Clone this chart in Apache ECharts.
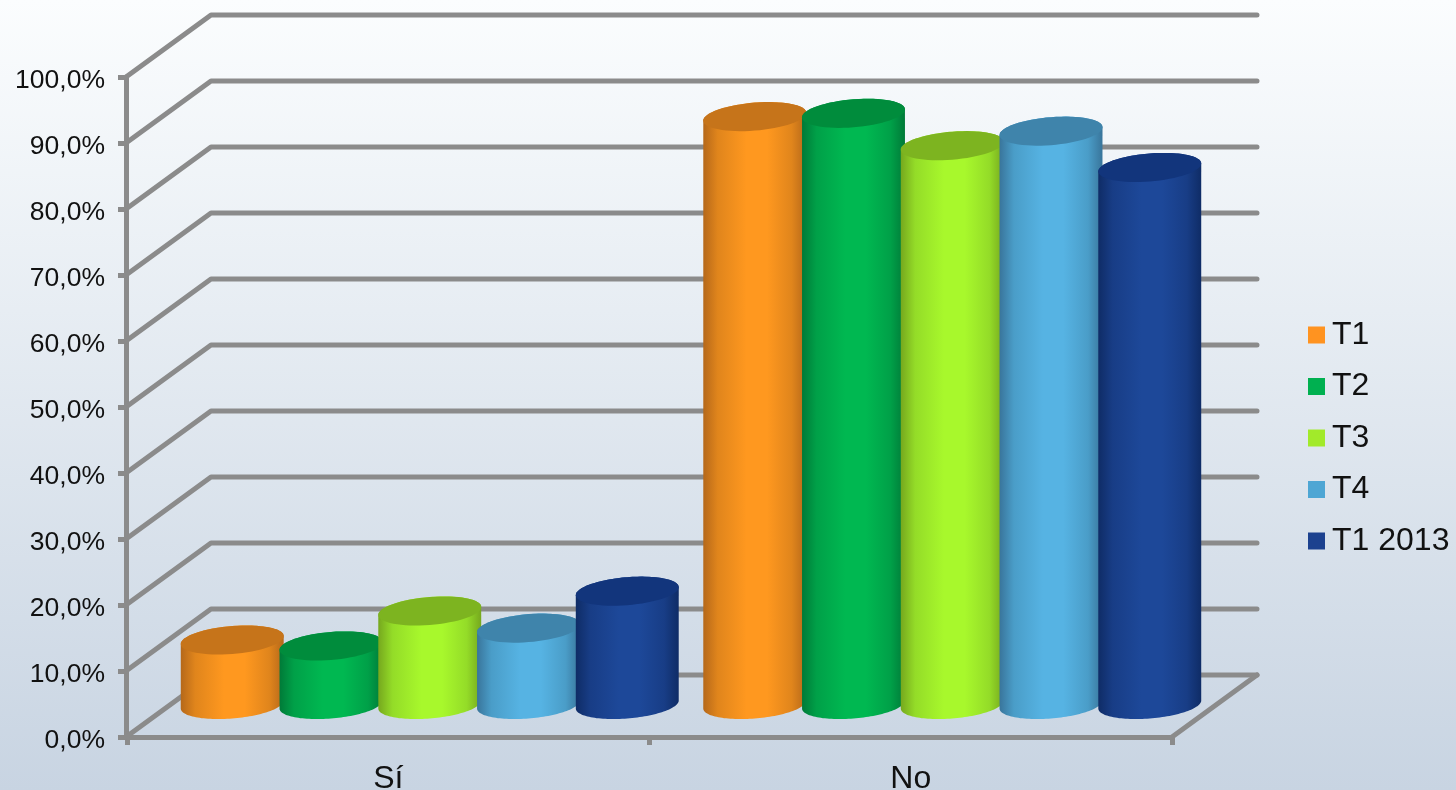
<!DOCTYPE html>
<html>
<head>
<meta charset="utf-8">
<style>html,body{margin:0;padding:0;background:#fff}#c{width:1456px;height:790px}</style>
<script src="https://cdn.jsdelivr.net/npm/echarts@6/dist/echarts.min.js"></script>
</head>
<body>
<div id="c"></div>
<script>
const categories = ['Sí', 'No'];
const tickValues = [0, 10, 20, 30, 40, 50, 60, 70, 80, 90, 100];
const T1 = [10.0, 89.3];
const T2 = [9.1, 89.8];
const T3 = [14.4, 84.9];
const T4 = [11.8, 87.1];
const T1_2013 = [17.4, 81.6];
const seriesNames = ['T1', 'T2', 'T3', 'T4', 'T1 2013'];
const seriesValues = [T1, T2, T3, T4, T1_2013];
const bodyMid = ['#ff981f', '#00b851', '#a8f82c', '#56b3e3', '#1d4899'];
const topColors = ['#c6741a', '#008c3c', '#7db420', '#3f84ab', '#12357c'];
const edgeColors = ['#b5681a', '#007a38', '#76a81e', '#39759b', '#0f2c66'];
const shoulderColors = ['#e0851c', '#00a048', '#94dc28', '#4a9dc8', '#183d86'];
const legendColors = ['#ff9320', '#00b050', '#a2ea2a', '#4ea6d4', '#1c418f'];

const LINE = '#8b8b8b';
const DX = 85, DY = -62;

function wallItem(params, api) {
  const cs = params.coordSys;
  const y = api.coord([0, api.value(0)])[1];
  const x0 = cs.x - 1, x1 = cs.x + cs.width;
  const children = [{
    type: 'polyline',
    shape: { points: [[x0, y], [x0 + DX, y + DY], [x1 + DX, y + DY]] },
    style: { stroke: LINE, lineWidth: 5, fill: null, lineCap: 'round', lineJoin: 'round' }
  }];
  if (api.value(0) === 0) {
    children.push({
      type: 'line',
      shape: { x1: x1, y1: y, x2: x1 + DX, y2: y + DY },
      style: { stroke: LINE, lineWidth: 5, lineCap: 'round' }
    });
  }
  return { type: 'group', children };
}

function ellipsePoints(cx, cy, a, b, k, from, to) {
  const pts = [], n = 64;
  for (let i = 0; i <= n; i++) {
    const t = from + (to - from) * i / n;
    pts.push([cx + a * Math.cos(t), cy + b * Math.sin(t) + k * Math.cos(t)]);
  }
  return pts;
}

function cylinderItem(si) {
  return function (params, api) {
    const band = api.size([1, 0])[0];
    const top = api.coord([api.value(0), api.value(1)]);
    const base = api.coord([api.value(0), 0]);
    const step = band * 0.189;
    const cx = top[0] + DX / 2 - 1 + (si - 2) * step;
    const a = band * 0.0985, b = 14, k = -4;
    const topY = top[1] + DY / 2, baseY = base[1] + DY / 2 - 1.5;
    const body = ellipsePoints(cx, baseY, a, b, k, Math.PI, 0)
      .concat(ellipsePoints(cx, topY, a, b, k, 0, -Math.PI));
    const grad = new echarts.graphic.LinearGradient(0, 0, 1, 0, [
      { offset: 0, color: edgeColors[si] },
      { offset: 0.14, color: shoulderColors[si] },
      { offset: 0.42, color: bodyMid[si] },
      { offset: 0.62, color: bodyMid[si] },
      { offset: 0.86, color: shoulderColors[si] },
      { offset: 1, color: edgeColors[si] }
    ]);
    return {
      type: 'group',
      children: [
        { type: 'polygon', shape: { points: body }, style: { fill: grad } },
        { type: 'polygon', shape: { points: ellipsePoints(cx, topY, a, b, k, 0, Math.PI * 2) }, style: { fill: topColors[si] } }
      ]
    };
  };
}

const chart = echarts.init(document.getElementById('c'), null, { renderer: 'canvas' });
const series = [{
  type: 'custom',
  name: 'walls',
  silent: true,
  clip: false,
  renderItem: wallItem,
  data: tickValues.map(v => [v]),
  encode: { y: 0 }
}].concat(seriesNames.map((name, si) => ({
  type: 'custom',
  name,
  clip: false,
  itemStyle: { color: legendColors[si] },
  renderItem: cylinderItem(si),
  data: seriesValues[si].map((v, i) => [i, v]),
  encode: { x: 0, y: 1 }
})));

chart.setOption({
  animation: false,
  backgroundColor: new echarts.graphic.LinearGradient(0, 0, 0, 1, [
    { offset: 0, color: '#fbfdfe' },
    { offset: 1, color: '#c8d4e2' }
  ]),
  grid: { left: 127, right: 284, top: 77, bottom: 53, containLabel: false, outerBoundsMode: 'none' },
  xAxis: {
    type: 'category',
    data: categories,
    axisLine: { show: true, lineStyle: { color: LINE, width: 5 } },
    axisTick: { show: true, length: 8, lineStyle: { color: LINE, width: 5 } },
    axisLabel: { fontFamily: 'Liberation Sans', fontSize: 32, color: '#111', margin: 26 }
  },
  yAxis: {
    type: 'value',
    min: 0, max: 100, interval: 10,
    offset: 1,
    splitLine: { show: false },
    axisLine: { show: true, lineStyle: { color: LINE, width: 5 } },
    axisTick: { show: true, length: 8, lineStyle: { color: LINE, width: 5 } },
    axisLabel: {
      margin: 21,
      formatter: v => '{a|' + v.toFixed(1).replace('.', ',') + '%}',
      rich: { a: { fontFamily: 'Liberation Sans', fontSize: 26.5, color: '#111', padding: [8, 0, 0, 0] } }
    }
  },
  legend: {
    orient: 'vertical',
    left: 1308,
    top: 319,
    data: seriesNames,
    icon: 'rect',
    itemWidth: 17,
    itemHeight: 17,
    itemGap: 19.5,
    padding: 0,
    selectedMode: false,
    textStyle: { fontFamily: 'Liberation Sans', fontSize: 32, color: '#111', padding: [0, 0, 0, 2] }
  },
  series
});
</script>
</body>
</html>
